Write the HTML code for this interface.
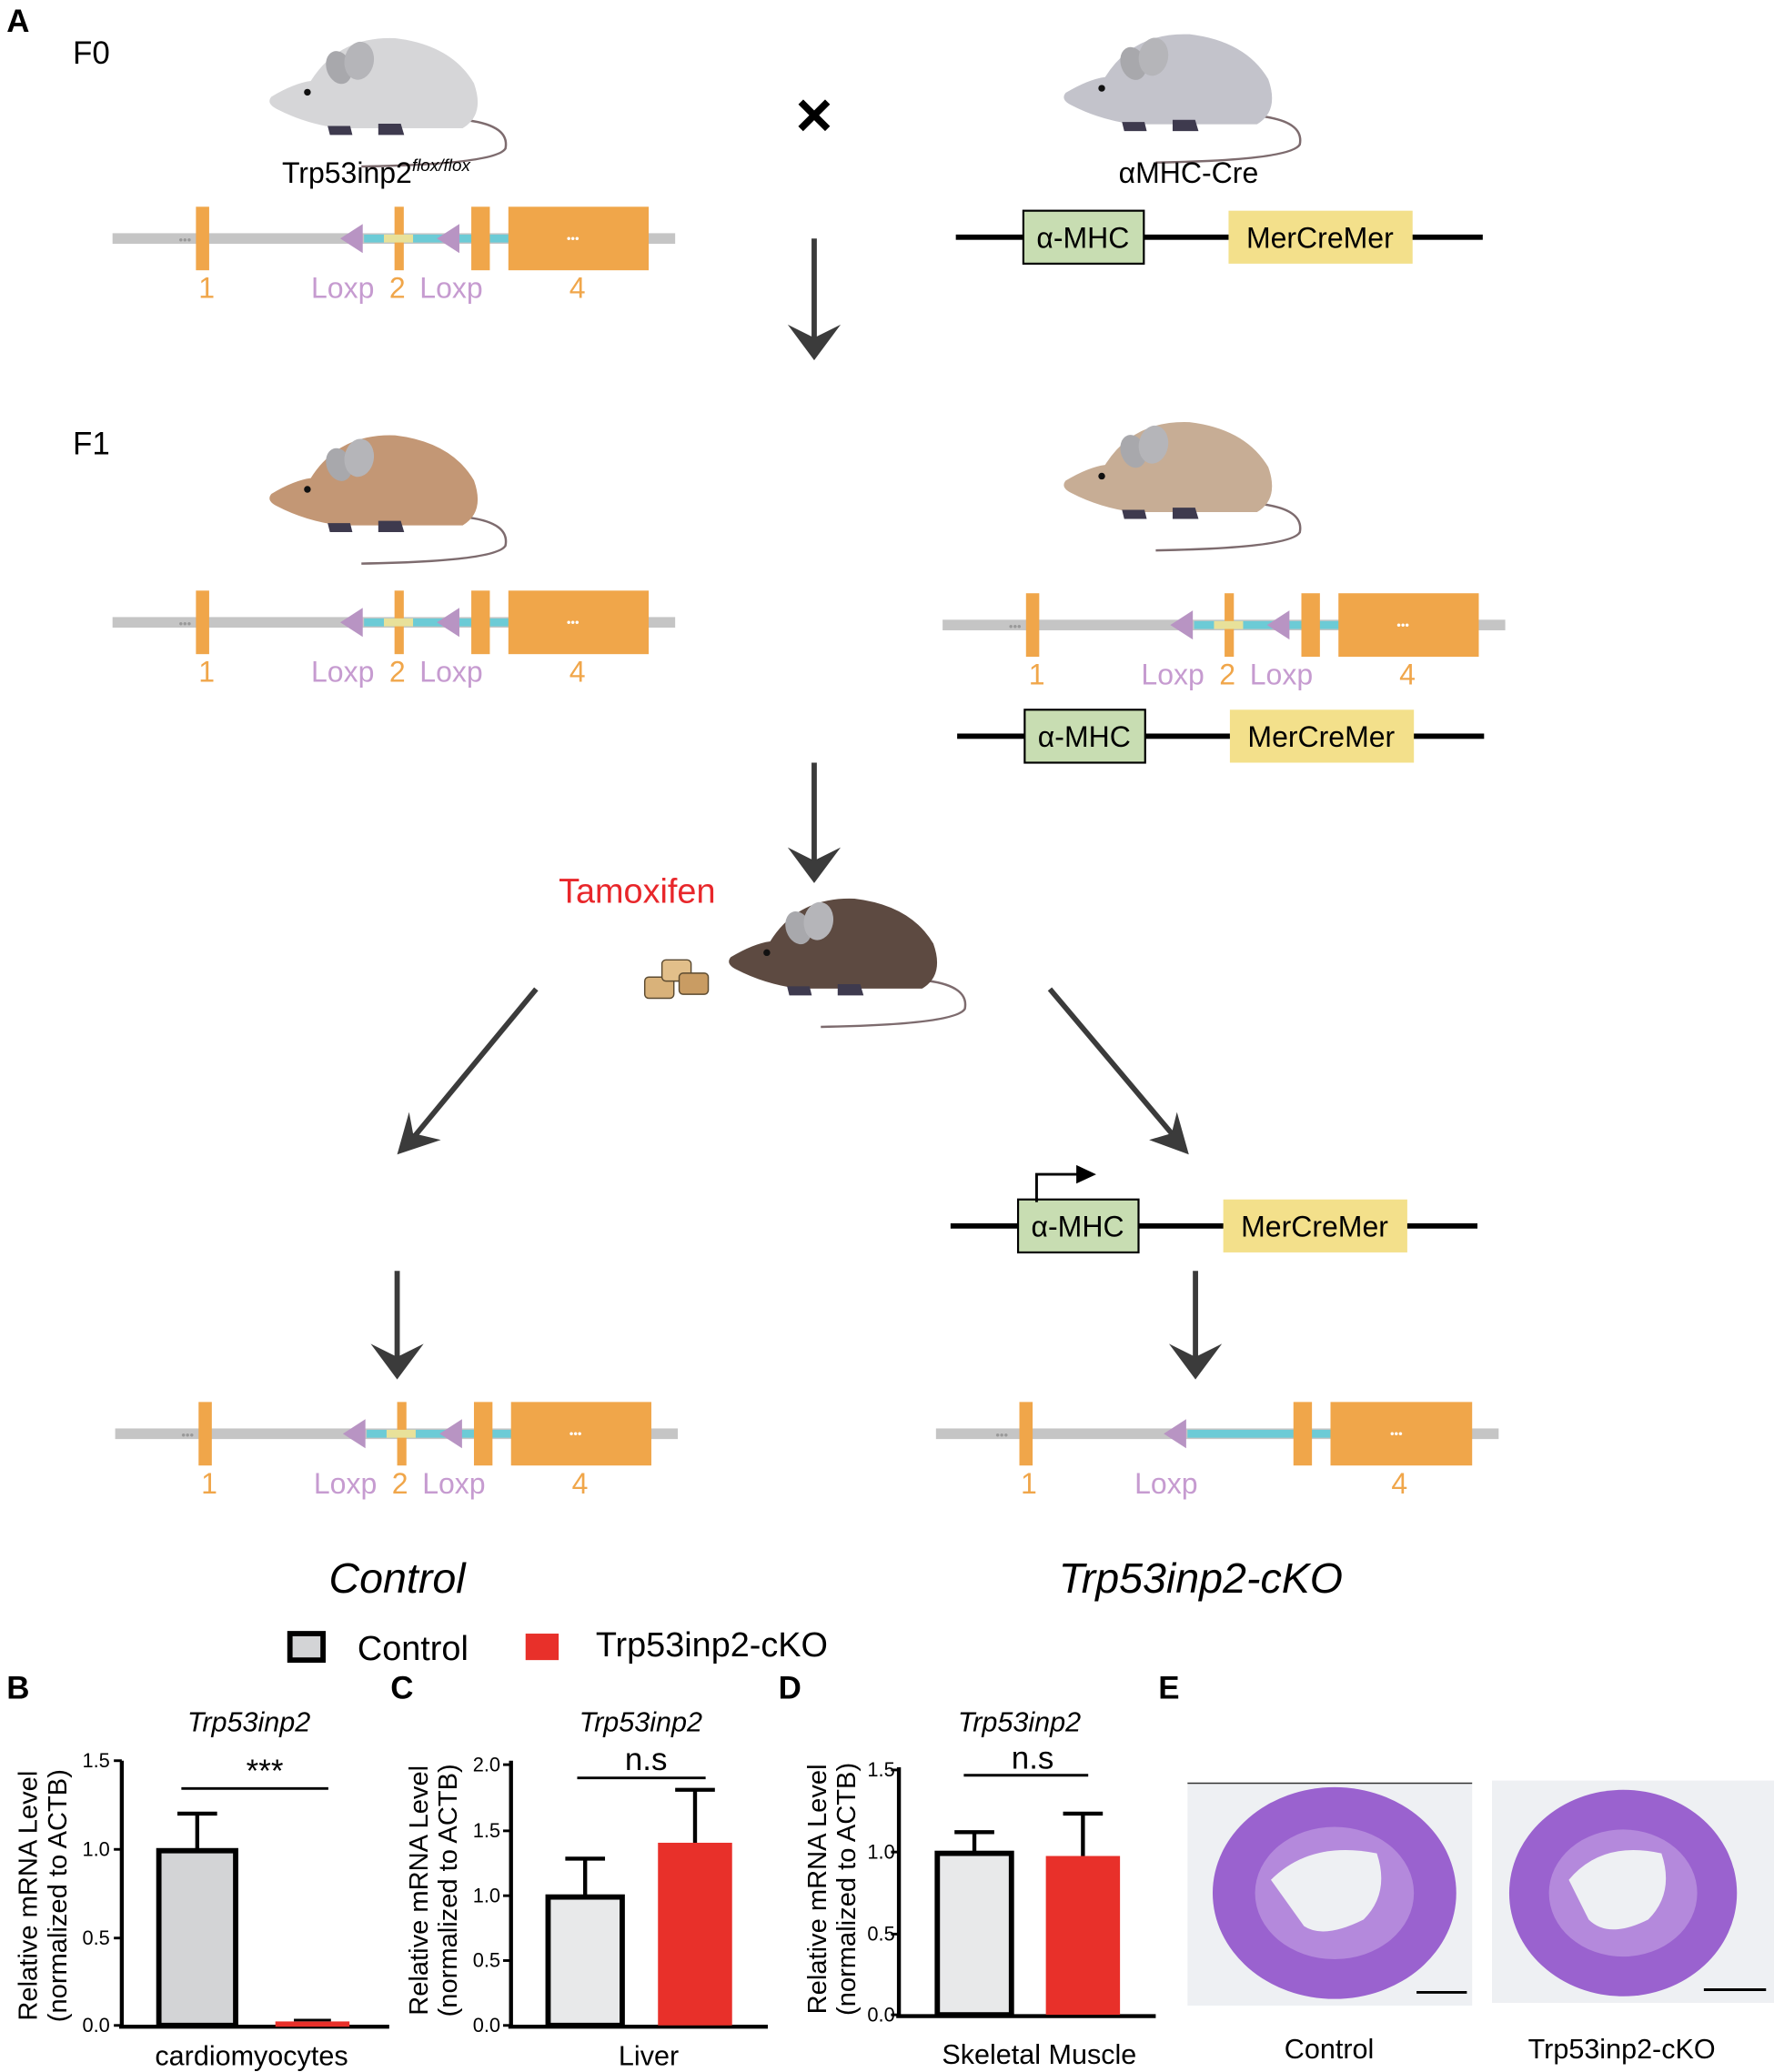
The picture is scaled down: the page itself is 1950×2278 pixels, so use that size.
<!DOCTYPE html>
<html><head><meta charset="utf-8"><style>
html,body{margin:0;padding:0;background:#fff}
svg{display:block}
text{font-family:"Liberation Sans",Arial,sans-serif}
</style></head><body>
<svg width="1950" height="2278" viewBox="0 0 1340 1565" xmlns="http://www.w3.org/2000/svg">
<defs>
<g id="mouse">
 <path d="M135,-5 Q172,0 168,20 Q160,34 40,36" fill="none" stroke="#7d6b6e" stroke-width="2"/>
 <path d="M-5,-40 Q20,-80 70,-78 Q120,-72 140,-38 Q150,-10 130,2 L20,2 Q-10,-2 -35,-15 Q-45,-20 -40,-26 Q-20,-38 -5,-40 Z"/>
 <ellipse cx="20" cy="-52" rx="11" ry="15" fill="#a8a8ac" transform="rotate(-20 20 -52)"/>
 <ellipse cx="38" cy="-58" rx="13" ry="17" fill="#b5b5b9" transform="rotate(10 38 -58)"/>
 <circle cx="-8" cy="-30" r="3" fill="#111"/>
 <path d="M10,0 L30,0 L32,8 L12,8 Z M55,-2 L75,-2 L78,8 L55,8 Z" fill="#3e3a4e"/>
</g>
<g id="gene">
 <rect x="0" y="-4" width="425" height="8" fill="#c5c5c5"/>
 <text x="50" y="4" font-size="9" fill="#999">•••</text>
 <rect x="63" y="-24" width="10" height="48" fill="#f0a64a"/>
 <rect x="190" y="-3" width="110" height="6" fill="#6ccbd6"/>
 <path d="M172,0 L189,-11 L189,11 Z" fill="#b894c3"/>
 <path d="M245,0 L262,-11 L262,11 Z" fill="#b894c3"/>
 <rect x="213" y="-24" width="7" height="48" fill="#f0a64a"/>
 <rect x="205" y="-3" width="22" height="6" fill="#e8e19a"/>
 <rect x="271" y="-24" width="14" height="48" fill="#f0a64a"/>
 <rect x="299" y="-24" width="106" height="48" fill="#f0a64a"/>
 <text x="343" y="3" font-size="9" fill="#fff">•••</text>
 <g font-size="22" fill="#f0a64a"><text x="65" y="45">1</text><text x="209" y="45">2</text><text x="345" y="45">4</text></g>
 <g font-size="22" fill="#c69bd0"><text x="150" y="45">Loxp</text><text x="232" y="45">Loxp</text></g>
</g>
<g id="cre">
 <rect x="0" y="-2" width="398" height="4" fill="#000"/>
 <rect x="51" y="-20" width="91" height="40" fill="#c8ddb2" stroke="#000" stroke-width="1.5"/>
 <rect x="206" y="-20" width="139" height="40" fill="#f3e08b"/>
 <text x="96" y="8" font-size="22" text-anchor="middle">α-MHC</text>
 <text x="275" y="8" font-size="22" text-anchor="middle">MerCreMer</text>
</g>
</defs>

<text x="5" y="24" font-size="24" font-weight="bold">A</text>
<text x="55" y="48" font-size="24">F0</text>
<text x="55" y="343" font-size="24">F1</text>

<g transform="translate(239,95) scale(0.85)" fill="#d6d6d8"><use href="#mouse"/></g>
<g transform="translate(839,92) scale(0.85)" fill="#c3c3cb"><use href="#mouse"/></g>
<g transform="translate(239,395) scale(0.85)" fill="#c39775"><use href="#mouse"/></g>
<g transform="translate(839,385) scale(0.85)" fill="#c7ad95"><use href="#mouse"/></g>
<g transform="translate(586,745) scale(0.85)" fill="#5d4a41"><use href="#mouse"/></g>

<text x="213" y="138" font-size="22">Trp53inp2<tspan font-size="13" font-style="italic" dy="-9">flox/flox</tspan></text>
<text x="845" y="138" font-size="22">αMHC-Cre</text>
<text x="615" y="103" font-size="48" font-weight="bold" text-anchor="middle">×</text>

<use href="#gene" x="85" y="180"/>
<use href="#cre" x="722" y="179"/>
<use href="#gene" x="85" y="470"/>
<use href="#gene" x="712" y="472"/>
<use href="#cre" x="723" y="556"/>
<use href="#cre" x="718" y="926"/>
<path d="M783,908 L783,887 L815,887" fill="none" stroke="#000" stroke-width="2"/>
<path d="M813,880 L828,887 L813,894 Z" fill="#000"/>
<use href="#gene" x="87" y="1083"/>

<g transform="translate(707,1083)">
 <rect x="0" y="-4" width="425" height="8" fill="#c5c5c5"/>
 <text x="45" y="4" font-size="9" fill="#999">•••</text>
 <rect x="63" y="-24" width="10" height="48" fill="#f0a64a"/>
 <rect x="190" y="-3" width="110" height="6" fill="#6ccbd6"/>
 <path d="M172,0 L189,-11 L189,11 Z" fill="#b894c3"/>
 <rect x="270" y="-24" width="14" height="48" fill="#f0a64a"/>
 <rect x="298" y="-24" width="107" height="48" fill="#f0a64a"/>
 <text x="343" y="3" font-size="9" fill="#fff">•••</text>
 <g font-size="22" fill="#f0a64a"><text x="64" y="45">1</text><text x="344" y="45">4</text></g>
 <text x="150" y="45" font-size="22" fill="#c69bd0">Loxp</text>
</g>

<g stroke="#3b3b3b" stroke-width="4" fill="#3b3b3b">
 <line x1="615" y1="180" x2="615" y2="262"/>
 <line x1="615" y1="576" x2="615" y2="657"/>
 <line x1="300" y1="960" x2="300" y2="1032"/>
 <line x1="903" y1="960" x2="903" y2="1032"/>
 <line x1="405" y1="747" x2="310" y2="862"/>
 <line x1="793" y1="747" x2="890" y2="862"/>
</g>
<g fill="#3b3b3b">
 <path d="M595,245 L615,272 L635,245 L615,255 Z"/>
 <path d="M595,640 L615,667 L635,640 L615,650 Z"/>
 <path d="M280,1015 L300,1042 L320,1015 L300,1025 Z"/>
 <path d="M883,1015 L903,1042 L923,1015 L903,1025 Z"/>
 <path d="M300,872 L309,840 L312,856 L333,861 Z"/>
 <path d="M898,872 L868,861 L885,856 L889,840 Z"/>
</g>

<text x="422" y="682" font-size="26" fill="#e8262a">Tamoxifen</text>
<g stroke="#5b4a30" stroke-width="1">
 <rect x="487" y="738" width="22" height="16" rx="3" fill="#d9b27a"/>
 <rect x="500" y="725" width="22" height="16" rx="3" fill="#e2bf8a"/>
 <rect x="513" y="735" width="22" height="16" rx="3" fill="#c99c63"/>
</g>

<text x="300" y="1203" font-size="32" font-style="italic" text-anchor="middle">Control</text>
<text x="907" y="1203" font-size="32" font-style="italic" text-anchor="middle">Trp53inp2-cKO</text>

<rect x="219" y="1234" width="25" height="20" fill="#d3d4d6" stroke="#000" stroke-width="4"/>
<text x="270" y="1254" font-size="26">Control</text>
<rect x="397" y="1234" width="25" height="20" fill="#e8302a"/>
<text x="450" y="1251" font-size="26">Trp53inp2-cKO</text>

<g font-size="24" font-weight="bold">
<text x="5" y="1283">B</text><text x="295" y="1283">C</text><text x="588" y="1283">D</text><text x="875" y="1283">E</text>
</g>

<g>
<text x="188" y="1308" font-size="21" font-style="italic" text-anchor="middle">Trp53inp2</text>
<text transform="translate(28,1432) rotate(-90)" font-size="20" text-anchor="middle">Relative mRNA Level</text>
<text transform="translate(50,1432) rotate(-90)" font-size="20" text-anchor="middle">(normalized to ACTB)</text>
<line x1="92" y1="1330" x2="92" y2="1532" stroke="#000" stroke-width="3"/>
<line x1="90" y1="1531" x2="294" y2="1531" stroke="#000" stroke-width="3"/>
<g stroke="#000" stroke-width="2"><line x1="86" y1="1330" x2="92" y2="1330"/><line x1="86" y1="1397" x2="92" y2="1397"/><line x1="86" y1="1464" x2="92" y2="1464"/><line x1="86" y1="1530" x2="92" y2="1530"/></g>
<g font-size="15" text-anchor="end"><text x="83" y="1335">1.5</text><text x="83" y="1402">1.0</text><text x="83" y="1469">0.5</text><text x="83" y="1535">0.0</text></g>
<line x1="149" y1="1370" x2="149" y2="1398" stroke="#000" stroke-width="3"/><line x1="134" y1="1370" x2="164" y2="1370" stroke="#000" stroke-width="3"/>
<rect x="120" y="1398" width="58" height="132" fill="#d3d4d6" stroke="#000" stroke-width="4"/>
<rect x="208" y="1527" width="56" height="4" fill="#e8302a"/>
<line x1="222" y1="1526" x2="250" y2="1526" stroke="#000" stroke-width="2"/>
<line x1="137" y1="1351" x2="248" y2="1351" stroke="#000" stroke-width="2"/>
<text x="200" y="1346" font-size="24" text-anchor="middle">***</text>
<text x="190" y="1560" font-size="21" text-anchor="middle">cardiomyocytes</text>
</g>

<g>
<text x="484" y="1308" font-size="21" font-style="italic" text-anchor="middle">Trp53inp2</text>
<text transform="translate(323,1428) rotate(-90)" font-size="20" text-anchor="middle">Relative mRNA Level</text>
<text transform="translate(345,1428) rotate(-90)" font-size="20" text-anchor="middle">(normalized to ACTB)</text>
<line x1="386" y1="1330" x2="386" y2="1532" stroke="#000" stroke-width="3"/>
<line x1="384" y1="1531" x2="580" y2="1531" stroke="#000" stroke-width="3"/>
<g stroke="#000" stroke-width="2"><line x1="380" y1="1333" x2="386" y2="1333"/><line x1="380" y1="1383" x2="386" y2="1383"/><line x1="380" y1="1432" x2="386" y2="1432"/><line x1="380" y1="1481" x2="386" y2="1481"/><line x1="380" y1="1530" x2="386" y2="1530"/></g>
<g font-size="15" text-anchor="end"><text x="378" y="1338">2.0</text><text x="378" y="1388">1.5</text><text x="378" y="1437">1.0</text><text x="378" y="1486">0.5</text><text x="378" y="1535">0.0</text></g>
<line x1="442" y1="1404" x2="442" y2="1433" stroke="#000" stroke-width="3"/><line x1="427" y1="1404" x2="457" y2="1404" stroke="#000" stroke-width="3"/>
<rect x="414" y="1433" width="56" height="97" fill="#e8e9ea" stroke="#000" stroke-width="4"/>
<line x1="525" y1="1352" x2="525" y2="1392" stroke="#000" stroke-width="3"/><line x1="510" y1="1352" x2="540" y2="1352" stroke="#000" stroke-width="3"/>
<rect x="497" y="1392" width="56" height="138" fill="#e8302a"/>
<line x1="436" y1="1343" x2="533" y2="1343" stroke="#000" stroke-width="2"/>
<text x="488" y="1337" font-size="24" text-anchor="middle">n.s</text>
<text x="490" y="1560" font-size="21" text-anchor="middle">Liver</text>
</g>

<g>
<text x="770" y="1308" font-size="21" font-style="italic" text-anchor="middle">Trp53inp2</text>
<text transform="translate(624,1427) rotate(-90)" font-size="20" text-anchor="middle">Relative mRNA Level</text>
<text transform="translate(646,1427) rotate(-90)" font-size="20" text-anchor="middle">(normalized to ACTB)</text>
<line x1="679" y1="1335" x2="679" y2="1524" stroke="#000" stroke-width="3"/>
<line x1="677" y1="1523" x2="873" y2="1523" stroke="#000" stroke-width="3"/>
<g stroke="#000" stroke-width="2"><line x1="673" y1="1337" x2="679" y2="1337"/><line x1="673" y1="1399" x2="679" y2="1399"/><line x1="673" y1="1461" x2="679" y2="1461"/><line x1="673" y1="1522" x2="679" y2="1522"/></g>
<g font-size="15" text-anchor="end"><text x="676" y="1342">1.5</text><text x="676" y="1404">1.0</text><text x="676" y="1466">0.5</text><text x="676" y="1527">0.0</text></g>
<line x1="736" y1="1384" x2="736" y2="1400" stroke="#000" stroke-width="3"/><line x1="721" y1="1384" x2="751" y2="1384" stroke="#000" stroke-width="3"/>
<rect x="708" y="1400" width="56" height="122" fill="#e8e9ea" stroke="#000" stroke-width="4"/>
<line x1="818" y1="1370" x2="818" y2="1402" stroke="#000" stroke-width="3"/><line x1="803" y1="1370" x2="833" y2="1370" stroke="#000" stroke-width="3"/>
<rect x="790" y="1402" width="56" height="120" fill="#e8302a"/>
<line x1="728" y1="1341" x2="822" y2="1341" stroke="#000" stroke-width="2"/>
<text x="780" y="1336" font-size="24" text-anchor="middle">n.s</text>
<text x="785" y="1559" font-size="21" text-anchor="middle">Skeletal Muscle</text>
</g>

<rect x="897" y="1347" width="215" height="168" fill="#eef0f3"/>
<line x1="897" y1="1347" x2="1112" y2="1347" stroke="#333" stroke-width="1"/>
<ellipse cx="1008" cy="1430" rx="92" ry="80" fill="#9a62cf"/>
<ellipse cx="1008" cy="1430" rx="60" ry="50" fill="#b489dc"/>
<path d="M960,1420 Q990,1390 1040,1400 Q1050,1430 1030,1450 Q1000,1465 985,1455 Z" fill="#eef0f3"/>
<line x1="1070" y1="1505" x2="1108" y2="1505" stroke="#000" stroke-width="2"/>
<rect x="1127" y="1345" width="213" height="168" fill="#eef0f3"/>
<ellipse cx="1226" cy="1430" rx="86" ry="78" fill="#9a62cf"/>
<ellipse cx="1226" cy="1430" rx="56" ry="48" fill="#b489dc"/>
<path d="M1185,1420 Q1210,1390 1255,1400 Q1265,1430 1245,1450 Q1215,1465 1200,1450 Z" fill="#eef0f3"/>
<line x1="1287" y1="1503" x2="1334" y2="1503" stroke="#000" stroke-width="2"/>
<text x="1004" y="1555" font-size="21" text-anchor="middle">Control</text>
<text x="1225" y="1555" font-size="21" text-anchor="middle">Trp53inp2-cKO</text>
</svg>
</body></html>
